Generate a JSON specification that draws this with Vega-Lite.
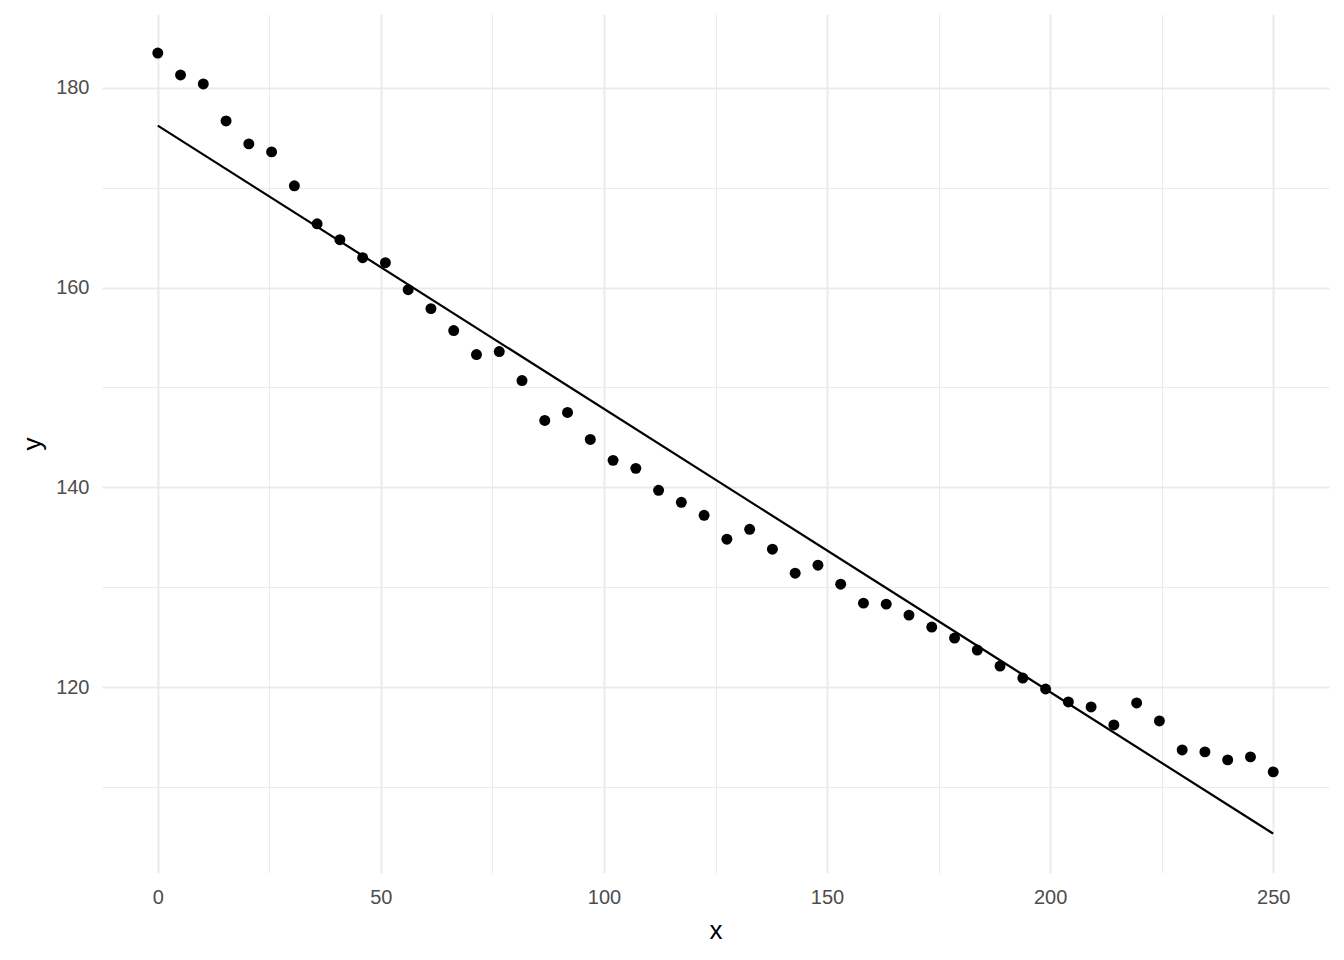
{
  "$schema": "https://vega.github.io/schema/vega-lite/v6.json",
  "width": 1227,
  "height": 859,
  "autosize": {"type": "none"},
  "padding": {"left": 102, "top": 14, "right": 15, "bottom": 87},
  "background": "white",
  "config": {
    "view": {"stroke": null},
    "font": "Liberation Sans",
    "axis": {
      "domain": false,
      "ticks": false,
      "gridColor": "#EBEBEB",
      "labelColor": "#4D4D4D",
      "labelFontSize": 20,
      "labelFont": "Liberation Sans",
      "titleFont": "Liberation Sans",
      "titleFontSize": 26,
      "titleFontWeight": "normal",
      "titleColor": "#000000"
    }
  },
  "data": {
    "values": [
      {"x": 0, "y": 183.5},
      {"x": 5.102, "y": 181.3},
      {"x": 10.204, "y": 180.4},
      {"x": 15.306, "y": 176.7},
      {"x": 20.408, "y": 174.4},
      {"x": 25.51, "y": 173.6},
      {"x": 30.612, "y": 170.2},
      {"x": 35.714, "y": 166.4},
      {"x": 40.816, "y": 164.8},
      {"x": 45.918, "y": 163.0},
      {"x": 51.02, "y": 162.5},
      {"x": 56.122, "y": 159.8},
      {"x": 61.224, "y": 157.9},
      {"x": 66.327, "y": 155.7},
      {"x": 71.429, "y": 153.3},
      {"x": 76.531, "y": 153.6},
      {"x": 81.633, "y": 150.7},
      {"x": 86.735, "y": 146.7},
      {"x": 91.837, "y": 147.5},
      {"x": 96.939, "y": 144.8},
      {"x": 102.041, "y": 142.7},
      {"x": 107.143, "y": 141.9},
      {"x": 112.245, "y": 139.7},
      {"x": 117.347, "y": 138.5},
      {"x": 122.449, "y": 137.2},
      {"x": 127.551, "y": 134.8},
      {"x": 132.653, "y": 135.8},
      {"x": 137.755, "y": 133.8},
      {"x": 142.857, "y": 131.4},
      {"x": 147.959, "y": 132.2},
      {"x": 153.061, "y": 130.3},
      {"x": 158.163, "y": 128.4},
      {"x": 163.265, "y": 128.3},
      {"x": 168.367, "y": 127.2},
      {"x": 173.469, "y": 126.0},
      {"x": 178.571, "y": 124.9},
      {"x": 183.673, "y": 123.7},
      {"x": 188.776, "y": 122.1},
      {"x": 193.878, "y": 120.9},
      {"x": 198.98, "y": 119.8},
      {"x": 204.082, "y": 118.5},
      {"x": 209.184, "y": 118.0},
      {"x": 214.286, "y": 116.2},
      {"x": 219.388, "y": 118.4},
      {"x": 224.49, "y": 116.6},
      {"x": 229.592, "y": 113.7},
      {"x": 234.694, "y": 113.5},
      {"x": 239.796, "y": 112.7},
      {"x": 244.898, "y": 113.0},
      {"x": 250, "y": 111.5}
    ]
  },
  "encoding": {
    "x": {
      "field": "x",
      "type": "quantitative",
      "title": "x",
      "scale": {"domain": [-12.5, 262.5], "nice": false, "zero": false},
      "axis": {
        "values": [0, 25, 50, 75, 100, 125, 150, 175, 200, 225, 250],
        "labelExpr": "datum.value % 50 === 0 ? datum.label : ''",
        "gridWidth": {"condition": {"test": "datum.value % 50 === 0", "value": 2}, "value": 1},
        "labelPadding": 14,
        "titlePadding": 10
      }
    },
    "y": {
      "field": "y",
      "type": "quantitative",
      "title": "y",
      "scale": {"domain": [101.37, 187.41], "nice": false, "zero": false},
      "axis": {
        "values": [110, 120, 130, 140, 150, 160, 170, 180],
        "labelExpr": "datum.value % 20 === 0 ? datum.label : ''",
        "gridWidth": {"condition": {"test": "datum.value % 20 === 0", "value": 2}, "value": 1},
        "labelPadding": 13,
        "titlePadding": 10
      }
    }
  },
  "layer": [
    {
      "mark": {"type": "point", "filled": true, "color": "black", "opacity": 1, "size": 120}
    },
    {
      "transform": [{"regression": "y", "on": "x", "extent": [0, 250]}],
      "mark": {"type": "line", "color": "black", "strokeWidth": 2.2}
    }
  ]
}
